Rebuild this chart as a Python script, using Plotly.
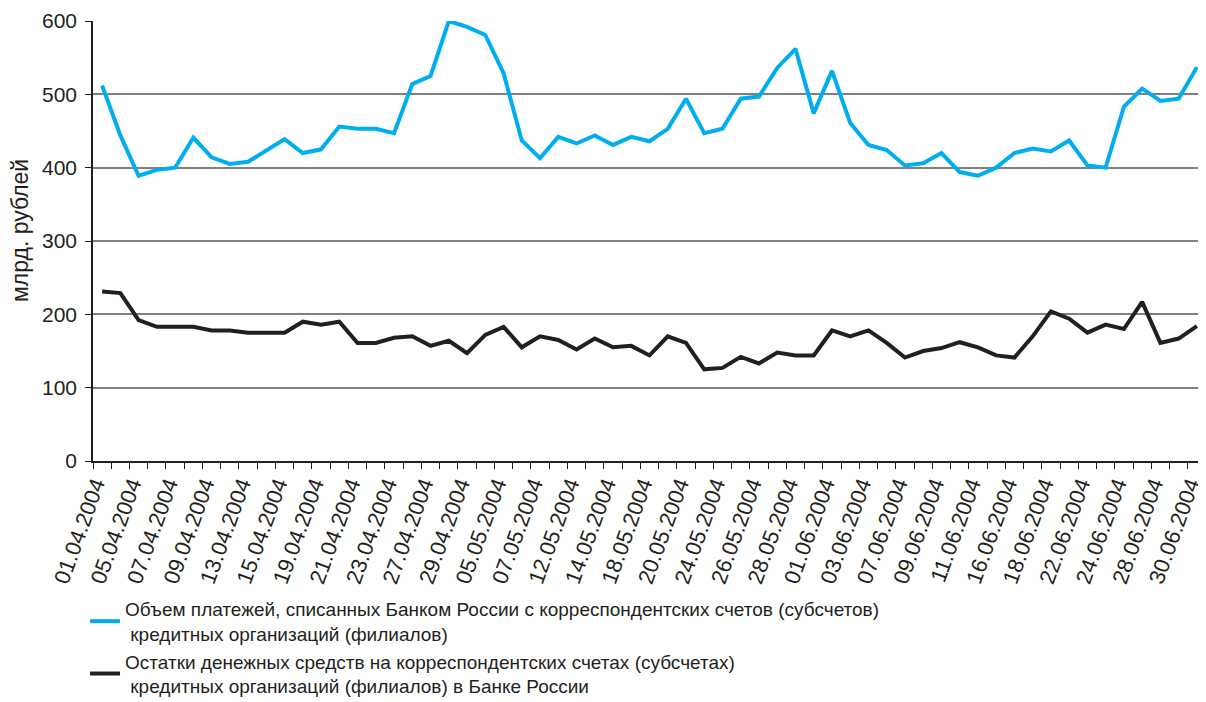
import plotly.graph_objects as go

dates = ["01.04.2004","02.04.2004","05.04.2004","06.04.2004","07.04.2004","08.04.2004","09.04.2004",
         "12.04.2004","13.04.2004","14.04.2004","15.04.2004","16.04.2004","19.04.2004","20.04.2004",
         "21.04.2004","22.04.2004","23.04.2004","26.04.2004","27.04.2004","28.04.2004","29.04.2004",
         "30.04.2004","05.05.2004","06.05.2004","07.05.2004","11.05.2004","12.05.2004","13.05.2004",
         "14.05.2004","17.05.2004","18.05.2004","19.05.2004","20.05.2004","21.05.2004","24.05.2004",
         "25.05.2004","26.05.2004","27.05.2004","28.05.2004","31.05.2004","01.06.2004","02.06.2004",
         "03.06.2004","04.06.2004","07.06.2004","08.06.2004","09.06.2004","10.06.2004","11.06.2004",
         "15.06.2004","16.06.2004","17.06.2004","18.06.2004","21.06.2004","22.06.2004","23.06.2004",
         "24.06.2004","25.06.2004","28.06.2004","29.06.2004","30.06.2004"]

payments = [512, 444, 389, 397, 400, 441, 414, 405, 408, 423, 439, 420, 425, 456, 453, 453, 447,
            514, 525, 600, 592, 581, 529, 437, 413, 442, 433, 444, 431, 442, 436, 453, 494, 447,
            453, 494, 497, 536, 562, 474, 532, 461, 431, 424, 403, 406, 420, 394, 389, 400, 420,
            426, 422, 437, 403, 400, 483, 508, 491, 494, 537]

balances = [231, 229, 192, 183, 183, 183, 178, 178, 175, 175, 175, 190, 186, 190, 161, 161, 168,
            170, 157, 164, 147, 172, 183, 155, 170, 165, 152, 167, 155, 157, 144, 170, 161, 125,
            127, 142, 133, 148, 144, 144, 178, 170, 178, 161, 141, 150, 154, 162, 155, 144, 141,
            170, 204, 194, 175, 186, 180, 217, 161, 167, 184]

name1 = "Объем платежей, списанных Банком России с корреспондентских счетов (субсчетов)<br> кредитных организаций (филиалов)"
name2 = "Остатки денежных средств на корреспондентских счетах (субсчетах)<br> кредитных организаций (филиалов) в Банке России"
y_title = "млрд. рублей"

ticktext = [d if i % 2 == 0 else "" for i, d in enumerate(dates)]

# page body has an 8px margin; figure is sized so the plot sits where the reference has it
W, H = 1198, 694
L, T, B = 85, 13, 241
plot_w, plot_h = W - L, H - T - B
plot_bottom = H - B

fig = go.Figure()
fig.add_trace(go.Scatter(x=dates, y=payments, mode="lines", name=name1,
                         line=dict(color="#00AEEF", width=4)))
fig.add_trace(go.Scatter(x=dates, y=balances, mode="lines", name=name2,
                         line=dict(color="#231F20", width=4)))

fig.update_layout(
    width=W, height=H,
    margin=dict(l=L, r=0, t=T, b=B, autoexpand=False),
    paper_bgcolor="white", plot_bgcolor="white",
    font=dict(family="Liberation Sans, Arial, sans-serif", size=18, color="#231F20"),
    showlegend=True,
    legend=dict(xref="container", yref="container", x=0.0643, y=0.1615,
                xanchor="left", yanchor="top",
                font=dict(family="Liberation Sans, Arial", size=19, color="#231F20"),
                bgcolor="rgba(0,0,0,0)", tracegroupgap=0),
    annotations=[dict(text=y_title, textangle=-90, xref="paper", yref="paper",
                      x=(12 - L) / plot_w, y=(plot_bottom - 223) / plot_h, xanchor="center",
                      yanchor="middle", showarrow=False, font=dict(size=23))],
)
fig.update_xaxes(type="category", range=[-0.5, 60.5], tickmode="array",
                 tickvals=dates, ticktext=ticktext, tickson="boundaries",
                 ticks="outside", ticklen=6, tickcolor="#231F20", tickwidth=1.2,
                 tickangle=-70, showgrid=False, showline=True, linecolor="#231F20",
                 linewidth=1.5, tickfont=dict(size=22), zeroline=False,
                 ticklabelshift=-7)
fig.update_yaxes(range=[0, 600], dtick=100, ticks="outside", ticklen=6,
                 tickcolor="#231F20", showgrid=True, gridcolor="#808080", gridwidth=1.5,
                 showline=True, linecolor="#231F20", linewidth=1.5, zeroline=False,
                 tickfont=dict(size=21), ticklabelstandoff=4)

fig.write_html("out.html")
